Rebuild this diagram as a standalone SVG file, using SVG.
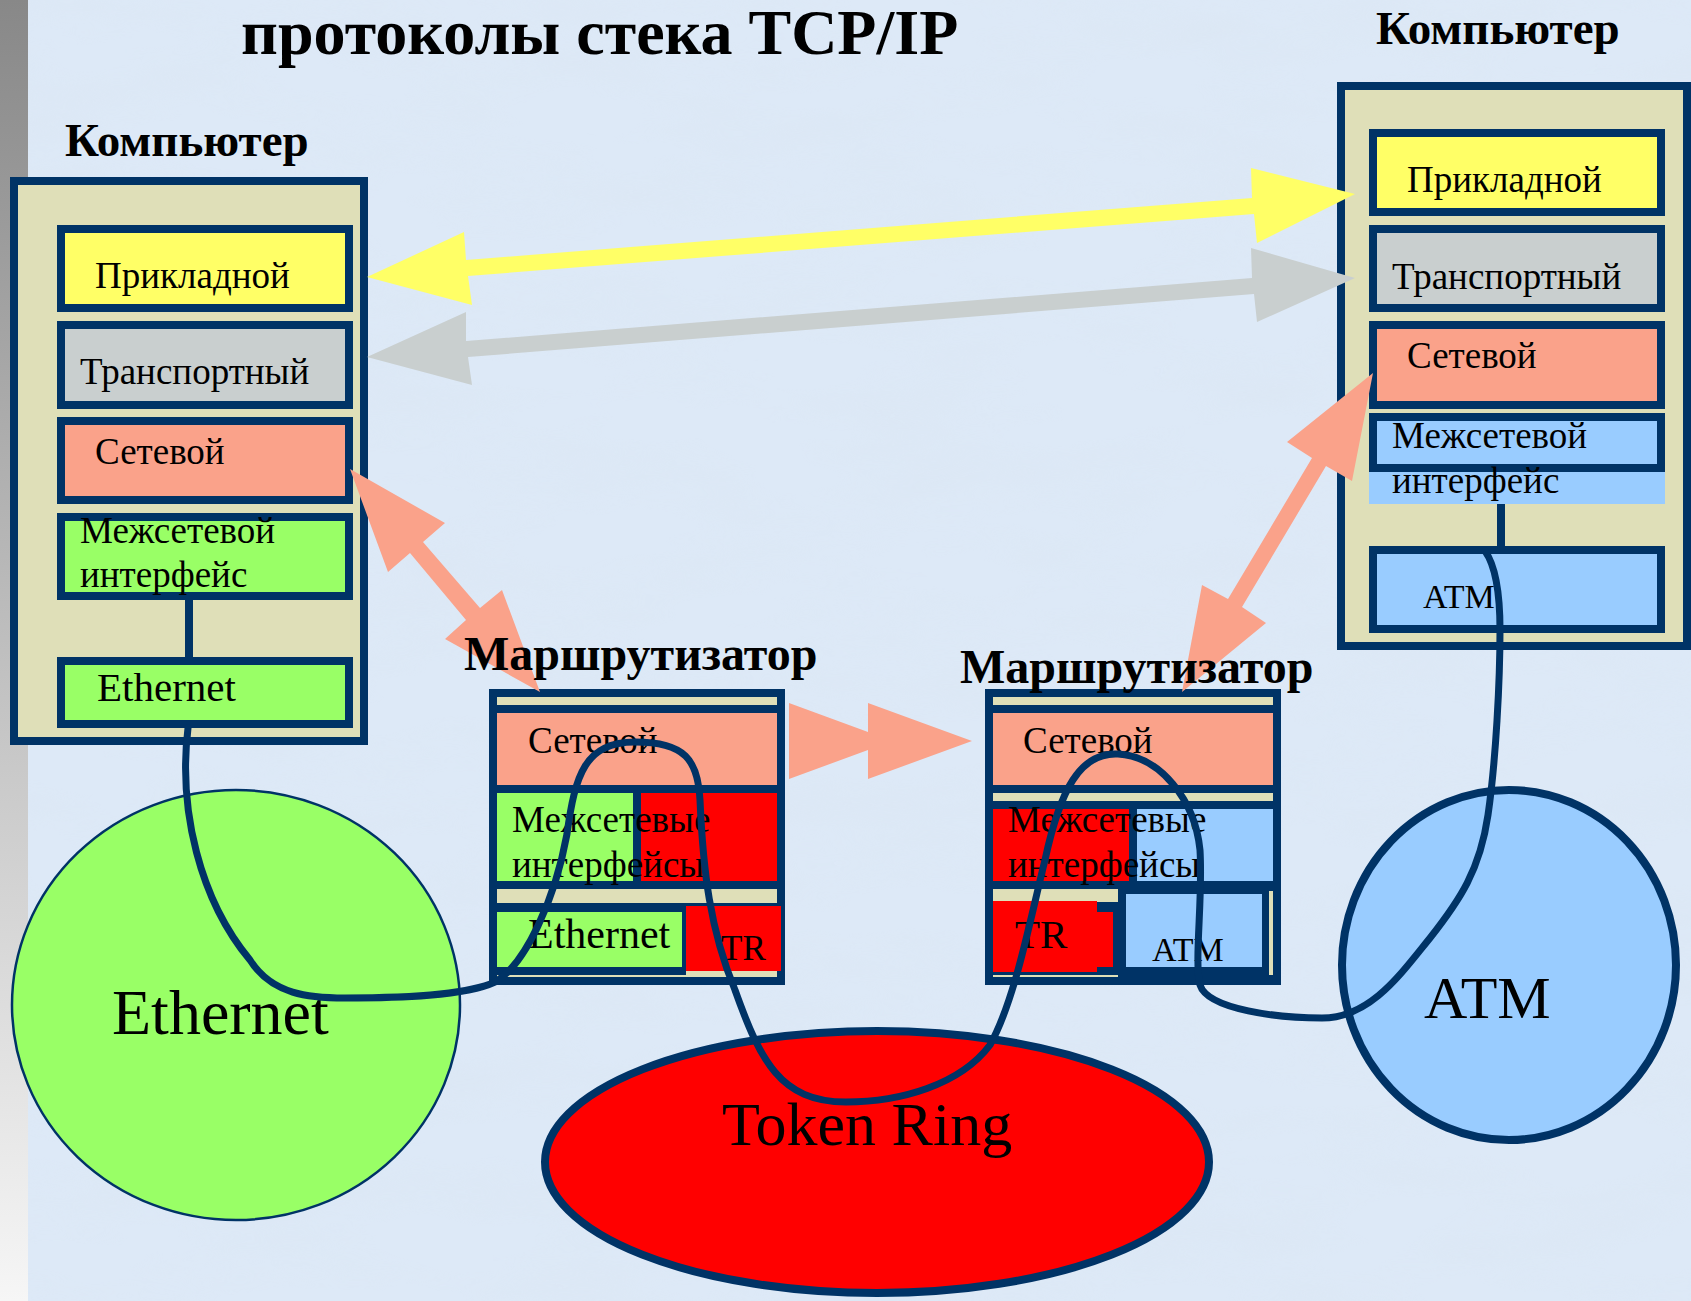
<svg xmlns="http://www.w3.org/2000/svg" width="1691" height="1301" viewBox="0 0 1691 1301">
<defs>
<linearGradient id="side" x1="0" y1="0" x2="0" y2="1">
<stop offset="0" stop-color="#888888"/><stop offset="1" stop-color="#F6F6F6"/>
</linearGradient>
<filter id="tex" x="0" y="0" width="100%" height="100%">
<feTurbulence type="fractalNoise" baseFrequency="0.006 0.018" numOctaves="3" seed="7"/>
<feColorMatrix type="matrix" values="0 0 0 0 0.70  0 0 0 0 0.78  0 0 0 0 0.87  1.1 0 0 0 -0.45"/>
</filter>
<style>
.t{font-family:"Liberation Serif","Times New Roman",serif;fill:#000}
.b{font-weight:bold}
.nv{fill:#003366}
.bg{fill:#DFDFB8}
.box{stroke:#003366;stroke-width:8}
.yl{fill:#FFFF66}.gr{fill:#C9CFCF}.sa{fill:#FAA28A}.gn{fill:#99FF66}.bl{fill:#99CCFF}.rd{fill:#FF0000}
.cable{fill:none;stroke:#003366;stroke-width:7;stroke-linecap:round;stroke-linejoin:round}
</style>
</defs>
<rect width="1691" height="1301" fill="#DDE9F7"/>
<rect width="1691" height="1301" filter="url(#tex)" opacity="0.6"/>
<rect width="28" height="1301" fill="url(#side)"/>

<text class="t b" x="241" y="54" font-size="64">протоколы стека TCP/IP</text>

<g id="computer-left">
<text class="t b" x="65" y="156" font-size="47">Компьютер</text>
<rect class="box bg" x="14" y="181" width="350" height="560"/>
<rect class="box yl" x="61" y="229" width="288" height="79"/>
<rect class="box gr" x="61" y="325" width="288" height="80"/>
<rect class="box sa" x="61" y="421" width="288" height="79"/>
<rect class="box gn" x="61" y="517" width="288" height="79"/>
<rect class="nv" x="185" y="600" width="8" height="58"/>
<rect class="box gn" x="61" y="661" width="288" height="63"/>
<text class="t" x="95" y="288" font-size="37">Прикладной</text>
<text class="t" x="80" y="384" font-size="37">Транспортный</text>
<text class="t" x="95" y="464" font-size="37">Сетевой</text>
<text class="t" x="80" y="543" font-size="37">Межсетевой</text>
<text class="t" x="80" y="587" font-size="37">интерфейс</text>
<text class="t" x="97" y="701" font-size="41">Ethernet</text>
</g>

<g id="computer-right">
<text class="t b" x="1376" y="44" font-size="47">Компьютер</text>
<rect class="box bg" x="1341" y="86" width="346" height="560"/>
<rect class="box yl" x="1373" y="133" width="288" height="79"/>
<rect class="box gr" x="1373" y="229" width="288" height="79"/>
<rect class="box sa" x="1373" y="325" width="288" height="80"/>
<rect class="bl" x="1369" y="470" width="296" height="34"/>
<rect class="box bl" x="1373" y="417" width="288" height="51"/>
<rect class="nv" x="1497" y="504" width="8" height="44"/>
<rect class="box bl" x="1373" y="550" width="288" height="79"/>
<text class="t" x="1407" y="192" font-size="37">Прикладной</text>
<text class="t" x="1392" y="289" font-size="37">Транспортный</text>
<text class="t" x="1407" y="368" font-size="37">Сетевой</text>
<text class="t" x="1392" y="448" font-size="37">Межсетевой</text>
<text class="t" x="1392" y="493" font-size="37">интерфейс</text>
<text class="t" x="1423" y="608" font-size="34">ATM</text>
</g>

<g id="router-left">
<rect class="box bg" x="493" y="693" width="288" height="288"/>
<rect class="nv" x="497" y="705" width="280" height="8"/>
<rect class="sa" x="497" y="713" width="280" height="72"/>
<rect class="nv" x="497" y="785" width="280" height="8"/>
<rect class="gn" x="497" y="793" width="136" height="88"/>
<rect class="nv" x="633" y="793" width="8" height="88"/>
<rect class="rd" x="641" y="793" width="136" height="88"/>
<rect class="nv" x="497" y="881" width="280" height="8"/>
<rect class="nv" x="497" y="903" width="280" height="9"/>
<rect class="gn" x="497" y="912" width="185" height="55"/>
<rect class="nv" x="682" y="908" width="4" height="72"/>
<rect class="rd" x="686" y="906" width="95" height="65"/>
<rect class="nv" x="497" y="967" width="185" height="8"/>
<rect class="bg" x="497" y="975" width="280" height="2"/>
<text class="t" x="528" y="753" font-size="37">Сетевой</text>
<text class="t" x="512" y="832" font-size="37">Межсетевые</text>
<text class="t" x="512" y="877" font-size="37">интерфейсы</text>
<text class="t" x="528" y="948" font-size="42">Ethernet</text>
<text class="t" x="721" y="960" font-size="35">TR</text>
</g>

<g id="router-right">
<rect class="box bg" x="989" y="693" width="288" height="288"/>
<rect class="nv" x="993" y="705" width="280" height="8"/>
<rect class="sa" x="993" y="713" width="280" height="72"/>
<rect class="nv" x="993" y="785" width="280" height="8"/>
<rect class="nv" x="993" y="801" width="280" height="8"/>
<rect class="rd" x="993" y="809" width="136" height="72"/>
<rect class="nv" x="1129" y="809" width="8" height="72"/>
<rect class="bl" x="1137" y="809" width="136" height="72"/>
<rect class="nv" x="993" y="881" width="280" height="96"/>
<rect class="bg" x="993" y="889" width="125" height="13"/>
<rect class="rd" x="993" y="901" width="104" height="71"/>
<rect class="rd" x="1096" y="912" width="17" height="55"/>
<rect class="bl" x="1126" y="894" width="136" height="73"/>
<rect class="bg" x="1269" y="891" width="4" height="84"/>
<rect class="bg" x="993" y="975" width="125" height="2"/>
<text class="t" x="1023" y="753" font-size="37">Сетевой</text>
<text class="t" x="1008" y="832" font-size="37">Межсетевые</text>
<text class="t" x="1008" y="877" font-size="37">интерфейсы</text>
<text class="t" x="1015" y="948" font-size="41">TR</text>
<text class="t" x="1152" y="961" font-size="34">ATM</text>
</g>

<g id="net-ethernet">
<ellipse cx="236" cy="1005" rx="224" ry="215" class="gn" stroke="#003366" stroke-width="2.5"/>
<text class="t" x="112" y="1034" font-size="64">Ethernet</text>
</g>
<g id="net-tokenring">
<ellipse cx="877" cy="1162" rx="332" ry="131" class="rd" stroke="#003366" stroke-width="8"/>
<text class="t" x="722" y="1145" font-size="62">Token Ring</text>
</g>
<g id="net-atm">
<ellipse cx="1509" cy="965" rx="167" ry="175" class="bl" stroke="#003366" stroke-width="8"/>
<text class="t" x="1424" y="1018" font-size="60">ATM</text>
</g>

<g id="connectors">
<polygon fill="#FFFF66" points="367,277 464,232 466,260 1252,198 1251,168 1355,194 1257,243 1254,214 468,276 472,305"/>
<polygon fill="#C9CFCF" points="367,357 466,312 466,341 1252,278 1251,248 1355,278 1257,322 1254,294 468,357 472,385"/>
<polygon fill="#FAA28A" points="350,469 445,523 423,542 480,608 502,590 540,692 445,639 466,620 410,553 388,572"/>
<polygon fill="#FAA28A" points="1373,373 1352,481 1326,466 1242,607 1266,623 1182,692 1202,585 1228,599 1312,458 1287,442"/>
<polygon fill="#FAA28A" points="789,703 868,732 868,703 972,741 868,779 868,750 789,779"/>
<path class="cable" d="M188,728 C178,810 200,900 250,960 C272,995 310,998 345,998 C400,998 465,996 495,982 C525,965 555,900 567,834 C575,775 585,742 635,742 C685,742 698,760 700,800 C703,870 710,930 735,990 C760,1060 780,1102 846,1102 C900,1102 960,1085 990,1045 C1015,1000 1030,920 1045,860 C1060,790 1080,752 1118,754 C1160,756 1195,800 1200,850 C1203,900 1194,960 1200,985 C1208,1010 1280,1018 1322,1018 C1370,1018 1400,975 1430,938 C1460,900 1480,870 1488,815 C1496,760 1500,680 1500,630 C1500,590 1495,565 1485,551"/>
</g>

<g id="router-left-label">
<text class="t b" x="464" y="670" font-size="48">Маршрутизатор</text>
</g>
<g id="router-right-label">
<text class="t b" x="960" y="683" font-size="48">Маршрутизатор</text>
</g>
</svg>
